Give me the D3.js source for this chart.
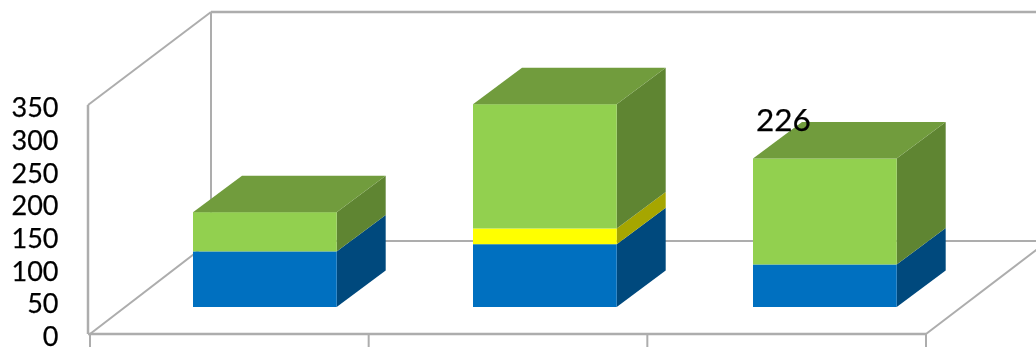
<!DOCTYPE html>
<html><head><meta charset="utf-8">
<style>html,body{margin:0;padding:0;background:#fff;overflow:hidden}svg{display:block}</style>
<script src="https://cdn.jsdelivr.net/npm/d3@7"></script></head>
<body><svg id="c" width="1036" height="347"></svg>
<script>
const categories = ["Group 1", "Group 2", "Group 3"];
const blueValues = [85, 96, 65];
const yellowValues = [0, 24, 0];
const greenValues = [60, 190, 162];
const yTicks = [0, 50, 100, 150, 200, 250, 300, 350];
const totalLabels = [null, null, 226];
const seriesNames = ["blue", "yellow", "green"];
const seriesValues = [blueValues, yellowValues, greenValues];
const seriesFront = ["#0070c0", "#ffff00", "#92d050"];
const seriesSide = ["#00497d", "#a6a600", "#5f8533"];
const topColor = "#719c3e";
const gridColor = "#adadad";

const svg = d3.select("#c");
const W = 1036, H = 347;
svg.append("defs").append("filter").attr("id","soft").attr("x","-5%").attr("y","-5%").attr("width","110%").attr("height","110%")
  .append("feGaussianBlur").attr("stdDeviation",0.5);

const y = d3.scaleLinear().domain([0,350]).range([334,105]);
const x = d3.scaleBand().domain(categories).range([90,926]);
const barX = d3.scalePoint().domain(categories).range([193,753]); // left of each bar's front face
const wallDx = 122, wallDy = -93;  // box depth
const barRise = 27;                // bar front above the floor's front edge
const barDx = 49, barDy = -36.5;   // bar depth
const barW = 143.7;

const root = svg.append("g").attr("filter","url(#soft)");
const line = (a,b,c,d,w=2)=>root.append("line").attr("x1",a).attr("y1",b).attr("x2",c).attr("y2",d).attr("stroke",gridColor).attr("stroke-width",w);

const x0 = x.range()[0], x1 = x.range()[1];
const y0 = y(0), yT = y(350);
// walls and floor
line(x0-2, yT, x0-2, y0, 2.5);
line(x0-2, yT, x0-2+wallDx+1, yT+wallDy);
line(x0-2+wallDx+1, yT+wallDy, W, yT+wallDy, 2.5);
line(x0-2+wallDx+1, yT+wallDy, x0-2+wallDx+1, y0+wallDy);
line(x0-2+wallDx+1, y0+wallDy, W, y0+wallDy);
line(x0, y0, x0+wallDx-1, y0+wallDy);
line(x0-2, y0, x1, y0, 2.5);
line(x1, y0, x1+wallDx, y0+wallDy);
// category ticks
[...categories.map(c=>x(c)), x1].forEach(t=>line(t, y0, t, H));

// bars
const poly = (g,pts,fill)=>g.append("polygon").attr("points",pts.map(p=>p.join(",")).join(" ")).attr("fill",fill);
categories.forEach((c,i)=>{
  const g = root.append("g");
  const bx = barX(c);
  let acc = 0;
  let topY = 0;
  seriesValues.forEach((vals,s)=>{
    const v = vals[i];
    if(!v) return;
    const yb = y(acc)-barRise, yt = y(acc+v)-barRise;
    poly(g,[[bx+barW,yb],[bx+barW+barDx,yb+barDy],[bx+barW+barDx,yt+barDy],[bx+barW,yt]],seriesSide[s]);
    g.append("rect").attr("x",bx).attr("y",yt).attr("width",barW).attr("height",yb-yt).attr("fill",seriesFront[s]);
    acc += v; topY = yt;
  });
  poly(g,[[bx,topY],[bx+barDx,topY+barDy],[bx+barW+barDx,topY+barDy],[bx+barW,topY]],topColor);
});

// y axis labels
const axis = d3.axisLeft(y).tickValues(yTicks).tickSize(0).tickPadding(0);
const ag = root.append("g").attr("transform","translate(58.5,3)").call(axis);
ag.select(".domain").remove();
ag.selectAll("text").attr("font-family","Lato, sans-serif").attr("font-size",27).attr("fill","#000").attr("stroke","#000").attr("stroke-width",0.25);

// total label
categories.forEach((c,i)=>{
  if(totalLabels[i]==null) return;
  root.append("text").text(totalLabels[i]).attr("x",barX(c)+3).attr("y",130.5)
    .attr("font-family","Lato, sans-serif").attr("font-size",31.5).attr("fill","#000").attr("stroke","#000").attr("stroke-width",0.25);
});
</script></body></html>
